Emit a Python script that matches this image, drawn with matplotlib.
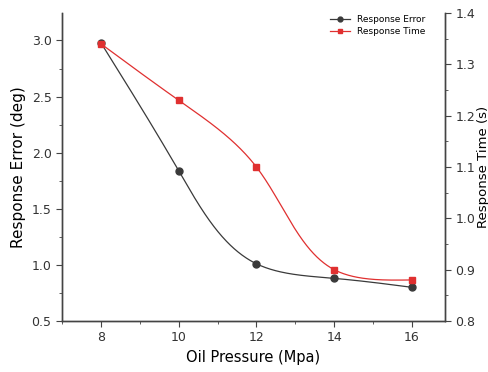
import numpy as np
import matplotlib
matplotlib.use("Agg")
import matplotlib.pyplot as plt
from matplotlib.ticker import MultipleLocator, FormatStrFormatter

pressure = [8, 10, 12, 14, 16]
resp_error = [2.98, 1.84, 1.01, 0.88, 0.80]
resp_time = [1.34, 1.23, 1.10, 0.90, 0.88]


def natural(t, v, ts):
    # natural cubic spline v(t) evaluated at ts
    h = np.diff(t)
    m = len(t)
    A = np.zeros((m, m)); b = np.zeros(m)
    A[0, 0] = A[-1, -1] = 1
    for i in range(1, m - 1):
        A[i, i - 1] = h[i - 1]; A[i, i] = 2 * (h[i - 1] + h[i]); A[i, i + 1] = h[i]
        b[i] = 6 * ((v[i + 1] - v[i]) / h[i] - (v[i] - v[i - 1]) / h[i - 1])
    M = np.linalg.solve(A, b)
    idx = np.clip(np.searchsorted(t, ts) - 1, 0, m - 2)
    t0, t1 = t[idx], t[idx + 1]; hh = t1 - t0
    return (M[idx] * (t1 - ts) ** 3 / (6 * hh) + M[idx + 1] * (ts - t0) ** 3 / (6 * hh)
            + (v[idx] / hh - M[idx] * hh / 6) * (t1 - ts)
            + (v[idx + 1] / hh - M[idx + 1] * hh / 6) * (ts - t0))


def smooth(x, y, sx, sy, n=400):
    # parametric spline, parameter = chord length on screen (sx, sy px per unit)
    x = np.asarray(x, float); y = np.asarray(y, float)
    d = np.hypot(np.diff(x) * sx, np.diff(y) * sy)
    t = np.concatenate([[0], np.cumsum(d)])
    ts = np.linspace(0, t[-1], n)
    return natural(t, x, ts), natural(t, y, ts)


fig = plt.figure(figsize=(4.89, 3.72), dpi=100)
ax = fig.add_axes([62 / 489, 1 - 321 / 372, 383 / 489, 308 / 372])
ax2 = ax.twinx()

xlim, ylim, ylim2 = (7.0, 16.85), (0.5, 3.245), (0.8, 1.4)
sx = 383 / (xlim[1] - xlim[0])

black = "#3a3a3a"
red = "#e03030"
xs, ys = smooth(pressure, resp_error, sx, 308 / (ylim[1] - ylim[0]))
ax.plot(xs, ys, color=black, lw=0.9)
ax.plot(pressure, resp_error, "o", color=black, ms=5)
xs, ys = smooth(pressure, resp_time, sx, 308 / (ylim2[1] - ylim2[0]))
ax2.plot(xs, ys, color=red, lw=0.9)
ax2.plot(pressure, resp_time, "s", color=red, ms=5)

h1, = ax.plot([], [], "-o", color=black, ms=3.5, lw=0.9)
h2, = ax.plot([], [], "-s", color=red, ms=3.5, lw=0.9)
ax.legend([h1, h2], ["Response Error", "Response Time"], loc="upper right",
          bbox_to_anchor=(0.97, 1.02), frameon=False, fontsize=6.5,
          handlelength=2.2, labelspacing=0.35)

ax.set_xlim(*xlim)
ax.set_ylim(*ylim)
ax2.set_ylim(*ylim2)
ax.xaxis.set_major_locator(MultipleLocator(2))
ax.xaxis.set_minor_locator(MultipleLocator(1))
ax.yaxis.set_major_locator(MultipleLocator(0.5))
ax.yaxis.set_minor_locator(MultipleLocator(0.25))
ax2.yaxis.set_major_locator(MultipleLocator(0.1))
ax2.yaxis.set_minor_locator(MultipleLocator(0.05))
ax.yaxis.set_major_formatter(FormatStrFormatter("%.1f"))
ax2.yaxis.set_major_formatter(FormatStrFormatter("%.1f"))

for a in (ax, ax2):
    a.spines["top"].set_visible(False)
    for s in a.spines.values():
        s.set_color("#444444"); s.set_linewidth(1.0)
    a.tick_params(which="both", direction="out", colors="#444444", labelsize=9,
                  labelcolor="#333333")
    a.tick_params(which="major", length=4)
    a.tick_params(which="minor", length=2.5)

ax.set_xlabel("Oil Pressure (Mpa)", fontsize=10.5)
ax.set_ylabel("Response Error (deg)", fontsize=11)
ax2.set_ylabel("Response Time (s)", fontsize=9.5, labelpad=1)

fig.savefig("out.png", dpi=100)
